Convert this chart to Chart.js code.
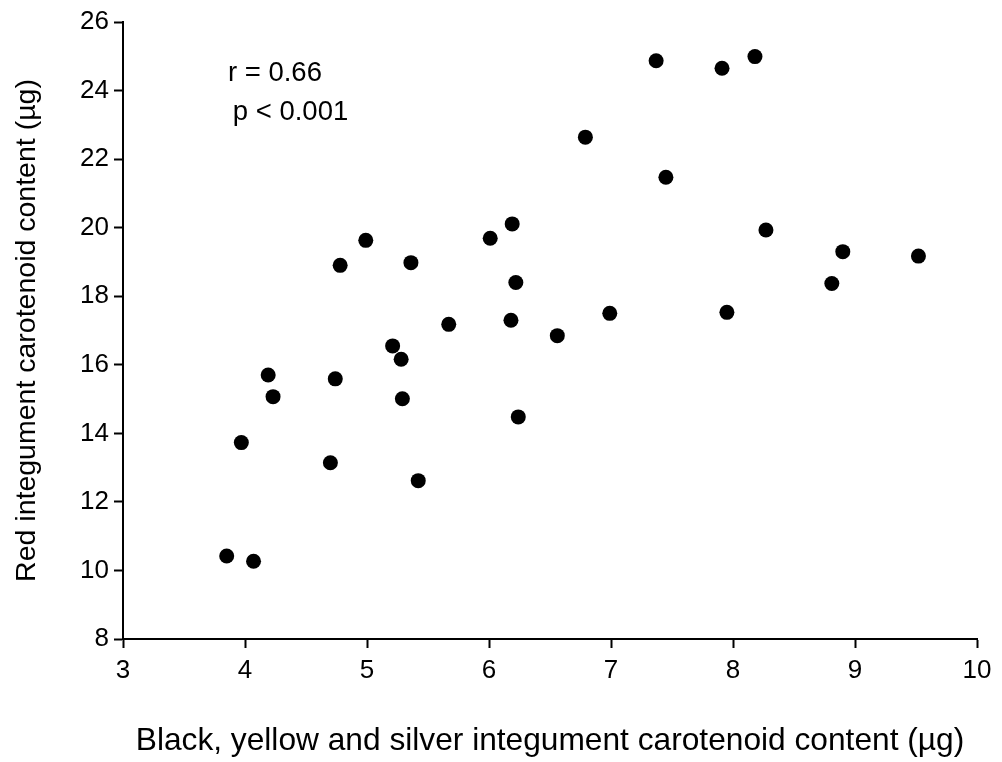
<!DOCTYPE html>
<html>
<head>
<meta charset="utf-8">
<script src="https://cdn.jsdelivr.net/npm/chart.js@4/dist/chart.umd.min.js"></script>
<style>
  html, body { margin: 0; padding: 0; background: #fff; }
  #wrap { width: 1002px; height: 762px; position: relative; }
</style>
</head>
<body>
<div id="wrap"><canvas id="chart"></canvas></div>
<script>
// Carotenoid content per fish (µg)
const blackYellowSilver = [3.85, 4.07, 3.97, 4.19, 4.23, 4.74, 4.70, 4.78, 4.99, 5.21, 5.28,
                           5.29, 5.36, 5.42, 5.67, 6.01, 6.19, 6.18, 6.22, 6.24, 6.56, 6.79,
                           6.99, 7.37, 7.45, 7.91, 7.95, 8.18, 8.27, 8.81, 8.90, 9.52];
const redIntegument     = [10.42, 10.27, 13.73, 15.70, 15.07, 15.59, 13.14, 18.90, 19.63, 16.55, 16.16,
                           15.01, 18.98, 12.62, 17.18, 19.69, 20.11, 17.30, 18.40, 14.48, 16.85, 22.64,
                           17.50, 24.87, 21.47, 24.65, 17.53, 24.99, 19.93, 18.37, 19.30, 19.17];

const xTickValues = [3, 4, 5, 6, 7, 8, 9, 10];
const yTickValues = [8, 10, 12, 14, 16, 18, 20, 22, 24, 26];

const xTitle = 'Black, yellow and silver integument carotenoid content (\u00b5g)';
const yTitle = 'Red integument carotenoid content (\u00b5g)';
const statLines = ['r = 0.66', 'p < 0.001'];

const FONT = '"Liberation Sans", Arial, Helvetica, sans-serif';

const points = blackYellowSilver.map((x, i) => ({ x, y: redIntegument[i] }));

// Correlation text, anchored in data units at the upper left of the plot
const statsLabel = {
  id: 'statsLabel',
  afterDraw(chart) {
    const { ctx, scales: { x, y } } = chart;
    const anchors = [[3.86, 24.29], [3.90, 23.13]];
    ctx.save();
    ctx.fillStyle = '#000';
    ctx.font = '27.5px ' + FONT;
    ctx.textAlign = 'left';
    ctx.textBaseline = 'alphabetic';
    statLines.forEach((t, i) => {
      ctx.fillText(t, x.getPixelForValue(anchors[i][0]), y.getPixelForValue(anchors[i][1]));
    });
    ctx.restore();
  }
};

const axisGrid = {
  display: true,
  drawOnChartArea: false,
  drawTicks: true,
  tickLength: 9,
  tickWidth: 2,
  tickColor: '#000',
  color: '#000'
};
const axisBorder = { display: true, color: '#000', width: 2 };

new Chart(document.getElementById('chart'), {
  type: 'scatter',
  data: {
    datasets: [{
      data: points,
      backgroundColor: '#000',
      borderColor: '#000',
      borderWidth: 0,
      pointRadius: 7.5,
      pointHoverRadius: 7.5,
      pointStyle: 'circle'
    }]
  },
  options: {
    responsive: true,
    maintainAspectRatio: false,
    animation: false,
    events: [],
    layout: { padding: { left: 0, top: 22, right: 25, bottom: 0 } },
    plugins: { legend: { display: false }, tooltip: { enabled: false } },
    scales: {
      x: {
        type: 'linear',
        min: 3,
        max: 10,
        afterBuildTicks: s => { s.ticks = xTickValues.map(v => ({ value: v })); },
        afterFit: s => { s.height = 123; },
        grid: axisGrid,
        border: axisBorder,
        ticks: { color: '#000', font: { family: FONT, size: 26 }, padding: 7, maxRotation: 0 },
        title: { display: true, text: xTitle, color: '#000', font: { family: FONT, size: 31.7 }, padding: { top: 0, bottom: 2 } }
      },
      y: {
        type: 'linear',
        min: 8,
        max: 26,
        afterBuildTicks: s => { s.ticks = yTickValues.map(v => ({ value: v })); },
        afterFit: s => { s.width = 123; },
        grid: axisGrid,
        border: axisBorder,
        ticks: { color: '#000', font: { family: FONT, size: 26 }, padding: 5 },
        title: { display: true, text: yTitle, color: '#000', font: { family: FONT, size: 28.5 }, padding: { top: 10, bottom: 0 } }
      }
    }
  },
  plugins: [statsLabel]
});
</script>
</body>
</html>
